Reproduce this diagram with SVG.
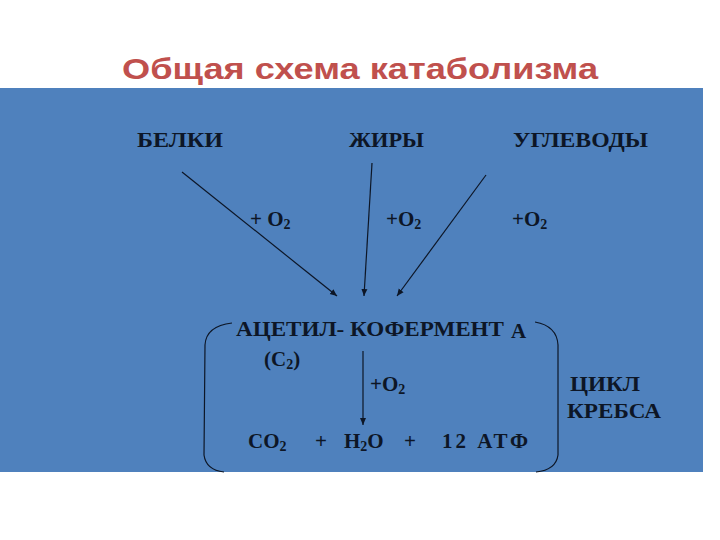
<svg xmlns="http://www.w3.org/2000/svg" width="720" height="540" viewBox="0 0 720 540">
<style>
.t{font-family:"Liberation Serif",serif;font-weight:bold;font-size:21px;fill:#0d1626}
.c{stroke:#0d1626;stroke-width:1.2;fill:none}
</style>
<defs><marker id="a" markerWidth="8" markerHeight="8" refX="7" refY="4" orient="auto" markerUnits="userSpaceOnUse"><path d="M0,1 L7,4 L0,7z" fill="#0d1626"/></marker></defs>
<rect width="720" height="540" fill="#fff"/>
<text x="122" y="79" textLength="476" lengthAdjust="spacingAndGlyphs" font-family="Liberation Sans,sans-serif" font-weight="bold" font-size="30" fill="#c0504d">Общая схема катаболизма</text>
<rect x="0" y="88" width="703" height="384" fill="#4f81bd"/>
<g id="belki"><text class="t" x="137" y="147" textLength="86" lengthAdjust="spacingAndGlyphs">БЕЛКИ</text></g>
<g id="zhiry"><text class="t" x="349" y="147" textLength="75" lengthAdjust="spacingAndGlyphs">ЖИРЫ</text></g>
<g id="uglevody"><text class="t" x="513" y="147" textLength="135" lengthAdjust="spacingAndGlyphs">УГЛЕВОДЫ</text></g>
<g id="acetyl"><text class="t" x="236" y="336" textLength="268" lengthAdjust="spacingAndGlyphs">АЦЕТИЛ- КОФЕРМЕНТ</text><text class="t" x="511" y="338" font-size="30">А</text><text class="t" x="264" y="366">(C<tspan font-size="14" dy="3">2</tspan><tspan dy="-3">)</tspan></text></g>
<g id="krebs"><text class="t" x="570" y="391" textLength="70" lengthAdjust="spacingAndGlyphs">ЦИКЛ</text><text class="t" x="567" y="418" textLength="94" lengthAdjust="spacingAndGlyphs">КРЕБСА</text></g>
<g id="products"><text class="t" x="248" y="448">CO<tspan font-size="14" dy="3">2</tspan></text><text class="t" x="315" y="448">+</text><text class="t" x="344" y="448">H<tspan font-size="14" dy="3">2</tspan><tspan dy="-3">O</tspan></text><text class="t" x="404" y="448">+</text><text class="t" x="442" y="448" textLength="86" lengthAdjust="spacing">12  АТФ</text></g>
<g id="labels">
<text class="t" x="250" y="226">+  O<tspan font-size="14" dy="3">2</tspan></text>
<text class="t" x="386" y="226">+O<tspan font-size="14" dy="3">2</tspan></text>
<text class="t" x="512" y="226">+O<tspan font-size="14" dy="3">2</tspan></text>
<text class="t" x="370" y="391">+O<tspan font-size="14" dy="3">2</tspan></text>
</g>
<g id="connectors">
<line class="c" x1="182" y1="172" x2="337" y2="296" marker-end="url(#a)"/>
<line class="c" x1="372" y1="163" x2="364" y2="296" marker-end="url(#a)"/>
<line class="c" x1="486" y1="175" x2="397" y2="296" marker-end="url(#a)"/>
<line class="c" x1="363" y1="351" x2="363" y2="425" marker-end="url(#a)"/>
<path class="c" d="M232,323 Q206,326 205,345 L204,455 Q206,470 224,472"/>
<path class="c" d="M535,322 Q557,326 558,345 L558,455 Q556,470 536,472"/>
</g>
</svg>
